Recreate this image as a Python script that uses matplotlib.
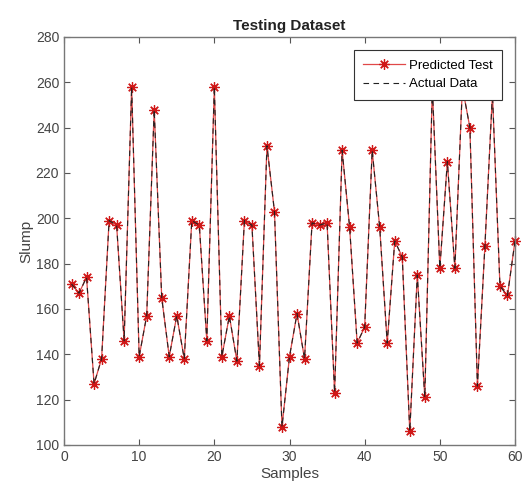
import matplotlib
matplotlib.use("Agg")
import matplotlib.pyplot as plt
import numpy as np

plt.rcParams['font.family'] = ['Liberation Sans', 'DejaVu Sans']

samples = list(range(1, 61))
predicted = [171, 167, 174, 127, 138, 199, 197, 146, 258, 139,
             157, 248, 165, 139, 157, 138, 199, 197, 146, 258,
             139, 157, 137, 199, 197, 135, 232, 203, 108, 139,
             158, 138, 198, 197, 198, 123, 230, 196, 145, 152,
             230, 196, 145, 190, 183, 106, 175, 121, 258, 178,
             225, 178, 258, 240, 126, 188, 255, 170, 166, 190]
actual = list(predicted)

xticks = [0, 10, 20, 30, 40, 50, 60]
yticks = [100, 120, 140, 160, 180, 200, 220, 240, 260, 280]

fig = plt.figure(figsize=(5.26, 4.97), dpi=100)
ax = fig.add_axes([64/526, 1 - 445/497, (515-64)/526, (445-37)/497])

ax.plot(samples, predicted, color='#e04848', linewidth=0.9, marker=(8, 2, 0),
        markersize=7.5, markeredgewidth=0.9, markeredgecolor='#d01818',
        label='Predicted Test', clip_on=False, zorder=2)
ax.plot(samples, actual, color='#222222', linewidth=0.8, linestyle=(0, (5, 4)),
        label='Actual Data', zorder=3)

ax.set_xlim(0, 60)
ax.set_ylim(100, 280)
ax.set_xticks(xticks)
ax.set_yticks(yticks)
ax.tick_params(direction='in', top=True, right=True, length=4, colors='#555555',
               labelsize=10, labelcolor='#444444')
for s in ax.spines.values():
    s.set_color('#777777')
    s.set_linewidth(1.0)

ax.set_title('Testing Dataset', fontsize=11, fontweight='bold', color='#222222', pad=5)
ax.set_xlabel('Samples', fontsize=11, color='#444444', labelpad=2)
ax.set_ylabel('Slump', fontsize=11, color='#444444', labelpad=2)

leg = ax.legend(loc='upper right', bbox_to_anchor=(0.971, 0.968), borderaxespad=0,
                fontsize=9.5, frameon=True, fancybox=False, edgecolor='#333333',
                framealpha=1, borderpad=0.7, labelspacing=0.5,
                handlelength=3.2, handletextpad=0.3)
leg.get_frame().set_linewidth(0.8)
leg.set_zorder(5)

fig.savefig('out.png', dpi=100)
